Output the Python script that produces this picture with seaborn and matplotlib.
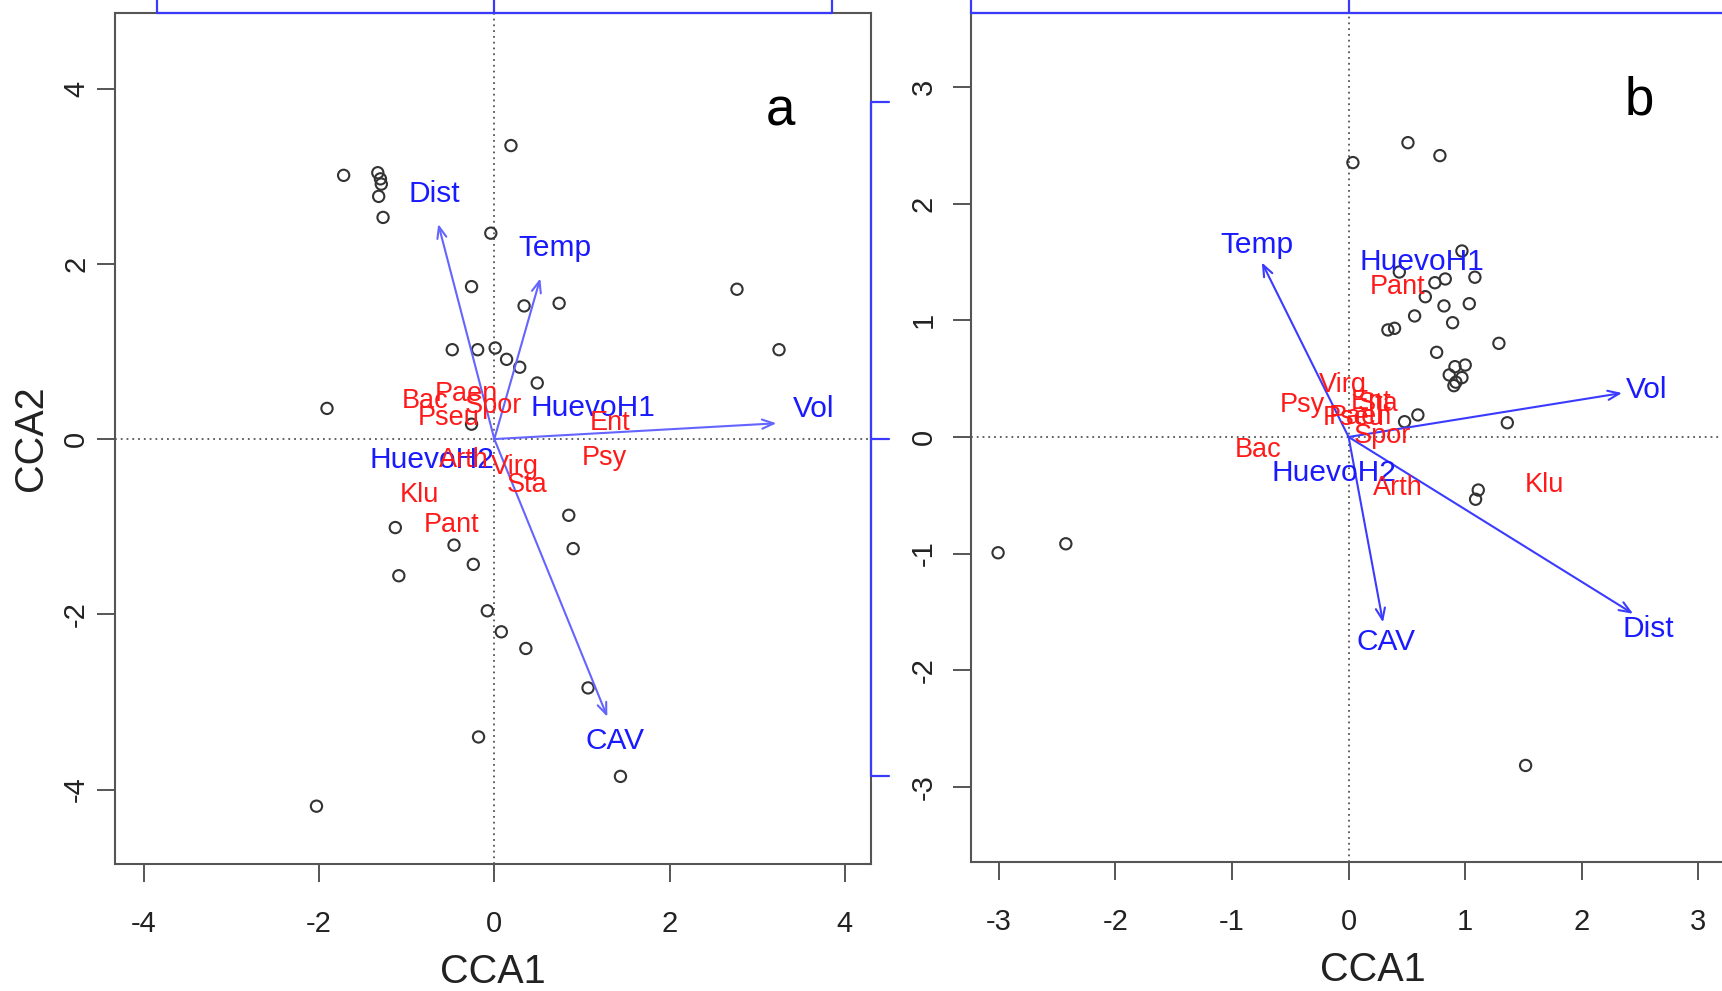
import numpy as np
import pandas as pd
import matplotlib
matplotlib.use("Agg")
import matplotlib.pyplot as plt
import seaborn as sns

sns.set_theme(style="white")
plt.rcParams['font.family'] = ['Liberation Sans', 'DejaVu Sans']
plt.rcParams['axes.unicode_minus'] = False

# ---------------- Panel a data ----------------
sites_a_x = [0.19, -1.72, -1.33, -1.30, -1.29, -1.32, -1.27, -0.04, -0.26, 0.34,
             0.74, 2.77, 3.25, -0.48, -0.19, 0.01, 0.14, 0.29, 0.49, -1.91,
             -0.26, 0.85, 0.90, -1.13, -0.46, -0.24, -1.09, -0.08, 0.08, 0.36,
             1.07, -0.18, 1.44, -2.03]
sites_a_y = [3.35, 3.01, 3.04, 2.97, 2.91, 2.77, 2.53, 2.35, 1.74, 1.52,
             1.55, 1.71, 1.02, 1.02, 1.02, 1.04, 0.91, 0.82, 0.64, 0.35,
             0.17, -0.87, -1.25, -1.01, -1.21, -1.43, -1.56, -1.96, -2.20, -2.39,
             -2.84, -3.40, -3.85, -4.19]

env_names_a = ["Dist", "Temp", "Vol", "CAV"]
env_a_x = [-0.64, 0.525, 3.22, 1.29]
env_a_y = [2.455, 1.834, 0.18, -3.17]
env_lab_a_x = [-0.685, 0.695, 3.65, 1.38]
env_lab_a_y = [2.80, 2.18, 0.34, -3.45]

centroid_names_a = ["HuevoH1", "HuevoH2"]
centroid_a_x = [1.13, -0.715]
centroid_a_y = [0.35, -0.24]

species_names_a = ["Bac", "Paen", "Spor", "Pseu", "Ent", "Psy", "Arth", "Virg", "Sta", "Klu", "Pant"]
species_a_x = [-0.79, -0.315, -0.01, -0.52, 1.32, 1.26, -0.35, 0.24, 0.37, -0.85, -0.49]
species_a_y = [0.43, 0.52, 0.38, 0.24, 0.18, -0.22, -0.24, -0.32, -0.52, -0.64, -0.98]

ticks_a = [-4, -2, 0, 2, 4]
arrow_axis_a = [-3.85, 0, 3.85]

# ---------------- Panel b data ----------------
sites_b_x = [0.509, 0.783, 0.037, 0.972, 0.435, 0.829, 0.740, 1.083, 0.658, 0.818,
             1.035, 0.566, 0.892, 0.337, 0.394, 1.289, 0.755, 0.912, 1.000, 0.863,
             0.972, 0.903, 0.92, 0.480, 0.594, 1.361, 1.112, 1.089, -3.006, -2.425,
             1.518]
sites_b_y = [2.524, 2.413, 2.353, 1.595, 1.415, 1.355, 1.323, 1.370, 1.203, 1.124,
             1.143, 1.038, 0.980, 0.918, 0.932, 0.803, 0.726, 0.603, 0.617, 0.532,
             0.509, 0.440, 0.47, 0.131, 0.189, 0.122, -0.455, -0.534, -0.993, -0.916,
             -2.817]

env_names_b = ["Temp", "Vol", "Dist", "CAV"]
env_b_x = [-0.744, 2.345, 2.44, 0.295]
env_b_y = [1.497, 0.377, -1.516, -1.59]
env_lab_b_x = [-0.79, 2.56, 2.57, 0.32]
env_lab_b_y = [1.65, 0.40, -1.65, -1.76]

centroid_names_b = ["HuevoH1", "HuevoH2"]
centroid_b_x = [0.63, -0.13]
centroid_b_y = [1.50, -0.31]

species_names_b = ["Virg", "Psy", "Ent", "Sta", "Pseu", "Paen", "Spor", "Bac", "Arth", "Klu", "Pant"]
species_b_x = [-0.05, -0.40, 0.19, 0.25, 0.04, 0.10, 0.29, -0.78, 0.42, 1.68, 0.42]
species_b_y = [0.45, 0.27, 0.30, 0.28, 0.16, 0.17, 0.01, -0.11, -0.44, -0.41, 1.29]

ticks_b = [-3, -2, -1, 0, 1, 2, 3]
arrow_axis_b = [-3.24, 0, 3.24]

# ---------------- styles ----------------
W, H = 1722, 991
RED = "#ff1a1a"
BLUE_TXT = "#1a1aff"
FRAME = "#555555"

fig = plt.figure(figsize=(W / 100, H / 100), dpi=100)
ax_a = fig.add_axes([115 / W, 1 - 864 / H, 756 / W, 851 / H])
ax_b = fig.add_axes([970.8 / W, 1 - 862 / H, 755.6 / W, 849 / H])


def draw_panel(ax, sx, sy, env_names, ex, ey, elx, ely, cen_names, cx, cy,
               sp_names, spx, spy, xlim, ylim, ticks, arrow_col, ytick_pad, xtick_pad):
    ax.set_xlim(*xlim)
    ax.set_ylim(*ylim)
    ax.axhline(0, color="#555555", lw=1.3, ls=(0, (1, 2.2)), zorder=1)
    ax.axvline(0, color="#555555", lw=1.3, ls=(0, (1, 2.2)), zorder=1)
    df = pd.DataFrame({"CCA1": sx, "CCA2": sy})
    sns.scatterplot(data=df, x="CCA1", y="CCA2", ax=ax, s=66, marker="o",
                    color="#333333", facecolor="none", edgecolor="#333333",
                    linewidth=1.5, zorder=3, legend=False)
    for name, x, y, lx, ly in zip(env_names, ex, ey, elx, ely):
        ax.annotate("", xy=(x, y), xytext=(0, 0),
                    arrowprops=dict(arrowstyle="->,head_length=0.55,head_width=0.22",
                                    color=arrow_col, lw=1.5, shrinkA=0, shrinkB=0,
                                    mutation_scale=15), zorder=4)
        ax.text(lx, ly, name, color=BLUE_TXT, fontsize=21.5, ha="center", va="center", zorder=5)
    for name, x, y in zip(cen_names, cx, cy):
        ax.text(x, y, name, color=BLUE_TXT, fontsize=21.5, ha="center", va="center", zorder=5)
    for name, x, y in zip(sp_names, spx, spy):
        ax.text(x, y, name, color=RED, fontsize=19.5, ha="center", va="center", zorder=5)
    ax.set_xticks(ticks)
    ax.set_yticks(ticks)
    ax.set_xticklabels([str(t) for t in ticks])
    ax.set_yticklabels([str(t) for t in ticks], rotation=90, va="center")
    ax.tick_params(axis="both", direction="out", length=13, width=1.4, color=FRAME,
                   labelsize=21, labelcolor="#222222", bottom=True, left=True)
    ax.tick_params(axis="y", pad=ytick_pad)
    ax.tick_params(axis="x", pad=xtick_pad)
    for sp in ax.spines.values():
        sp.set_color(FRAME)
        sp.set_linewidth(1.5)
    ax.set_xlabel("")
    ax.set_ylabel("")


draw_panel(ax_a, sites_a_x, sites_a_y, env_names_a, env_a_x, env_a_y, env_lab_a_x, env_lab_a_y,
           centroid_names_a, centroid_a_x, centroid_a_y, species_names_a, species_a_x, species_a_y,
           (-4.33, 4.30), (-4.85, 4.863), ticks_a, "#6464ff", 5, 20)
draw_panel(ax_b, sites_b_x, sites_b_y, env_names_b, env_b_x, env_b_y, env_lab_b_x, env_lab_b_y,
           centroid_names_b, centroid_b_x, centroid_b_y, species_names_b, species_b_x, species_b_y,
           (-3.24, 3.24), (-3.645, 3.636), ticks_b, "#3b3bff", 11, 20)

# axis titles
ax_a.set_xlabel("CCA1", fontsize=28.5, color="#222222")
ax_a.xaxis.set_label_coords(0.5, -(972 - 864) / 851)
ax_a.xaxis.label.set_va("center")
ax_a.set_ylabel("CCA2", fontsize=28.5, color="#222222")
ax_a.yaxis.set_label_coords(-(115 - 31) / 756, 0.5)
ax_a.yaxis.label.set_va("center")
ax_b.set_xlabel("CCA1", fontsize=28.5, color="#222222")
ax_b.xaxis.set_label_coords((1372.7 - 970.8) / 755.6, -(970 - 862) / 849)
ax_b.xaxis.label.set_va("center")

# panel letters
ax_a.text((780 - 115) / 756, (864 - 111.7) / 851, "a", transform=ax_a.transAxes,
          fontsize=38, ha="center", va="center", color="black")
ax_b.text((1639.6 - 970.8) / 755.6, (862 - 100.3) / 849, "b", transform=ax_b.transAxes,
          fontsize=38, ha="center", va="center", color="black")

# blue arrow-scale axes (top and right of panel a, top of panel b)
BLUE_AX = "#3a3aff"
def arrow_axis_top(ax, vals, ytop, tick_len):
    ax.plot([vals[0], vals[-1]], [ytop, ytop], color=BLUE_AX, lw=1.6, clip_on=False, zorder=6)
    for v in vals:
        ax.plot([v, v], [ytop, ytop + tick_len], color=BLUE_AX, lw=1.6, clip_on=False, zorder=6)

def arrow_axis_right(ax, vals, xright, tick_len):
    ax.plot([xright, xright], [vals[0], vals[-1]], color=BLUE_AX, lw=1.6, clip_on=False, zorder=6)
    for v in vals:
        ax.plot([xright, xright + tick_len], [v, v], color=BLUE_AX, lw=1.6, clip_on=False, zorder=6)

arrow_axis_top(ax_a, arrow_axis_a, 4.863, 18 / 87.6)
arrow_axis_right(ax_a, arrow_axis_a, 4.30, 18 / 87.6)
arrow_axis_top(ax_b, arrow_axis_b, 3.636, 18 / 116.6)

fig.savefig("out.png", dpi=100)
